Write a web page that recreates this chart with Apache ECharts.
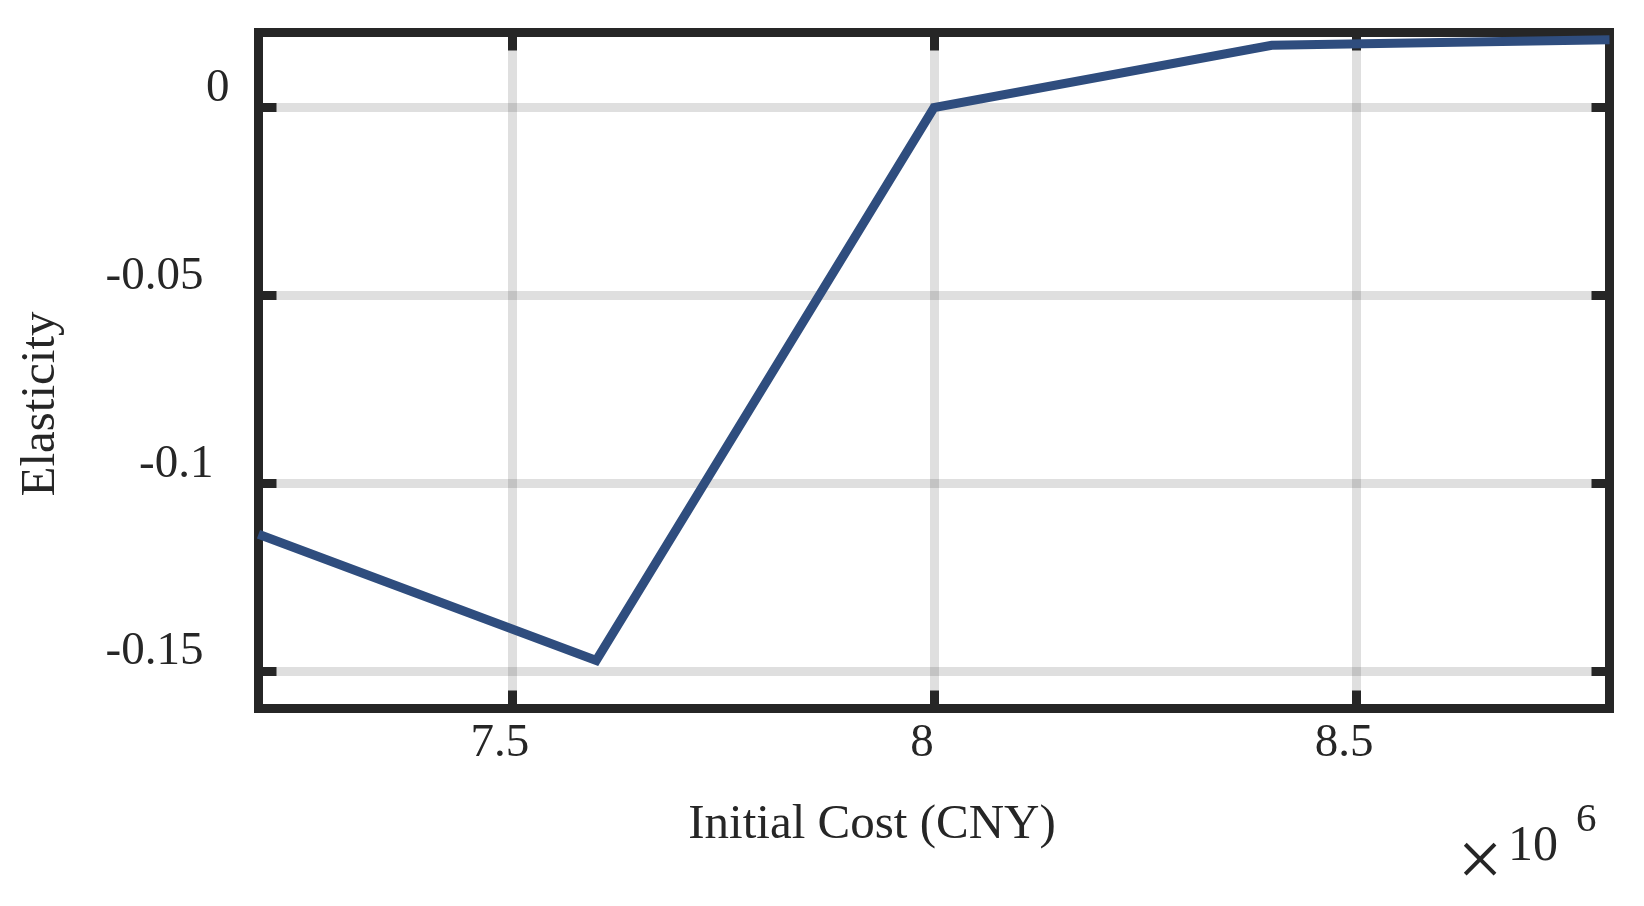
<!DOCTYPE html>
<html>
<head>
<meta charset="utf-8">
<script src="https://cdn.jsdelivr.net/npm/echarts@6.0.0/dist/echarts.min.js"></script>
<style>
  html, body { margin: 0; padding: 0; background: #ffffff; }
  #chart { width: 1644px; height: 906px; }
</style>
</head>
<body>
<div id="chart"></div>
<script>
// initial cost (CNY) vs elasticity
const costValues = [7.2e6, 7.6e6, 8.0e6, 8.4e6, 8.8e6];
const elasticityValues = [-0.1136, -0.1472, 0.0, 0.0166, 0.0181];

const xTicks = [7.5e6, 8.0e6, 8.5e6];
const yTicks = [-0.15, -0.1, -0.05, 0];
const xRange = [7.2e6, 8.8e6];
const yRange = [-0.16, 0.02];

const ink = '#262626';
const serif = 'Liberation Serif';

const chart = echarts.init(document.getElementById('chart'));

const gridLine = { lineStyle: { color: 'rgba(38,38,38,0.15)', width: 9 } };
const tickStyle = { inside: true, length: 18, lineStyle: { color: ink, width: 9 } };

// the y labels in the source are not quite right-aligned; nudge each one
function yLabel(v) {
  const s = String(+v.toFixed(2));
  if (v === 0) return '{c|' + s + '}';
  if (s === '-0.1') return '{b|' + s + '}';
  return '{a|' + s + '}';
}

const option = {
  animation: false,
  backgroundColor: '#ffffff',
  grid: {
    left: 258.5,
    right: 34.5,
    top: 32.5,
    bottom: 197.5,
    show: true,
    borderColor: ink,
    borderWidth: 9,
    backgroundColor: 'transparent'
  },
  xAxis: [{
    type: 'value',
    min: xRange[0],
    max: xRange[1],
    axisLine: { show: false, onZero: false },
    axisTick: Object.assign({ customValues: xTicks }, tickStyle),
    axisLabel: {
      customValues: xTicks,
      margin: 12,
      color: ink,
      fontFamily: serif,
      fontSize: 47,
      padding: [0, 24, 0, 0],
      formatter: v => String(+(v / 1e6).toFixed(2))
    },
    splitLine: Object.assign({ show: true, customValues: xTicks }, gridLine)
  }, {
    type: 'value',
    position: 'top',
    min: xRange[0],
    max: xRange[1],
    axisLine: { show: false, onZero: false },
    axisTick: Object.assign({ customValues: xTicks }, tickStyle),
    axisLabel: { show: false },
    splitLine: { show: false }
  }],
  yAxis: [{
    type: 'value',
    min: yRange[0],
    max: yRange[1],
    axisLine: { show: false, onZero: false },
    axisTick: Object.assign({ customValues: yTicks }, tickStyle),
    axisLabel: {
      customValues: yTicks,
      margin: 29,
      color: ink,
      fontFamily: serif,
      fontSize: 47,
      verticalAlign: 'bottom',
      lineHeight: 38,
      formatter: yLabel,
      rich: {
        a: { fontSize: 47, fontFamily: serif, color: ink, lineHeight: 38, padding: [0, 26, 0, 0] },
        b: { fontSize: 47, fontFamily: serif, color: ink, lineHeight: 38, padding: [0, 16, 0, 0] },
        c: { fontSize: 47, fontFamily: serif, color: ink, lineHeight: 38 }
      }
    },
    splitLine: Object.assign({ show: true, customValues: yTicks }, gridLine)
  }, {
    type: 'value',
    position: 'right',
    min: yRange[0],
    max: yRange[1],
    axisLine: { show: false, onZero: false },
    axisTick: Object.assign({ customValues: yTicks }, tickStyle),
    axisLabel: { show: false },
    splitLine: { show: false }
  }],
  series: [{
    type: 'line',
    data: costValues.map((c, i) => [c, elasticityValues[i]]),
    showSymbol: false,
    lineStyle: { color: '#2f4d7e', width: 9, join: 'miter' },
    z: 5
  }],
  graphic: [
    {
      type: 'text', x: 872, y: 825,
      style: { text: 'Initial Cost (CNY)', font: '49px "Liberation Serif"', fill: ink, align: 'center', verticalAlign: 'middle' }
    },
    {
      type: 'text', x: 41, y: 404, rotation: Math.PI / 2,
      style: { text: 'Elasticity', font: '49px "Liberation Serif"', fill: ink, align: 'center', verticalAlign: 'middle' }
    },
    {
      type: 'text', x: 1480, y: 865,
      style: { text: '×', font: '80px "Liberation Serif"', fill: ink, align: 'center', verticalAlign: 'middle' }
    },
    {
      type: 'text', x: 1508, y: 822,
      style: { text: '10', font: '50px "Liberation Serif"', fill: ink, align: 'left', verticalAlign: 'top' }
    },
    {
      type: 'text', x: 1576, y: 800,
      style: { text: '6', font: '41px "Liberation Serif"', fill: ink, align: 'left', verticalAlign: 'top' }
    }
  ]
};

chart.setOption(option);
</script>
</body>
</html>
